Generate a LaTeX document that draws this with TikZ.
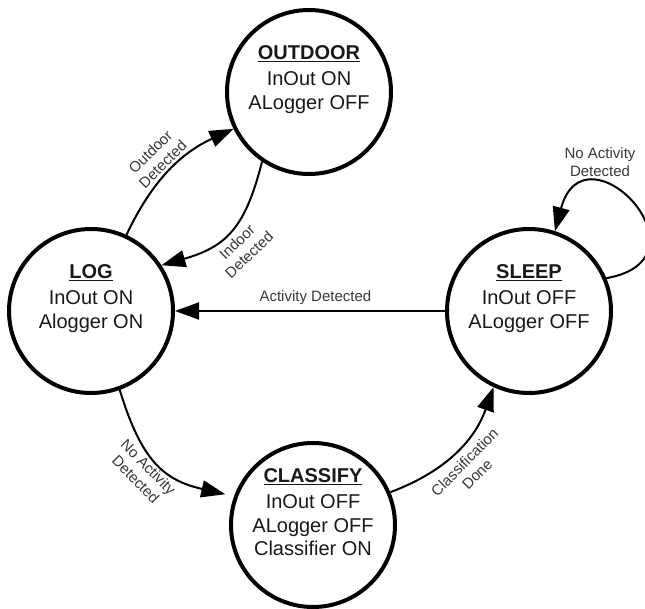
\documentclass[tikz,border=0pt]{standalone}
\usepackage{fontspec}
\setmainfont{Liberation Sans}
\usetikzlibrary{arrows.meta}
\begin{document}
\begin{tikzpicture}[x=1pt,y=1pt,
  state/.style={circle, draw, line width=4pt, minimum size=164pt, inner sep=0pt},
  stext/.style={align=center, font=\fontsize{20}{23.5}\selectfont, text=black!90, inner sep=0pt},
  edge/.style={line width=2pt, -{Triangle[length=24pt,width=17pt]}},
  lbl/.style={font=\fontsize{15}{17.5}\selectfont, text=black!78, align=center, inner sep=3pt},
]
\useasboundingbox (0,0) rectangle (645,-609);
\node[state] (outdoor) at (309,-92) {};
\node[state] (log) at (91,-311) {};
\node[state] (sleep) at (529,-311) {};
\node[state] (classify) at (313,-525) {};

\node[stext] (outdoortext) at ([yshift=12.5pt]outdoor.center) {\underline{\textbf{OUTDOOR}}\\[2.5pt] InOut ON\\ ALogger OFF};
\node[stext] (logtext) at ([yshift=12.5pt]log.center) {\underline{\textbf{LOG}}\\[2.5pt] InOut ON\\ Alogger ON};
\node[stext] (sleeptext) at ([yshift=12.5pt]sleep.center) {\underline{\textbf{SLEEP}}\\[2.5pt] InOut OFF\\ ALogger OFF};
\node[stext] (classifytext) at ([yshift=12.5pt]classify.center) {\underline{\textbf{CLASSIFY}}\\[2.5pt] InOut OFF\\ ALogger OFF\\ Classifier ON};

\draw[edge] (log.65) to[bend left=20] node[lbl, above, sloped] {Outdoor\\Detected} (outdoor.206);
\draw[edge] (outdoor.236) to[bend left=30, looseness=1.2] node[lbl, below=3pt, sloped, pos=0.52] {Indoor\\Detected} (log.33);
\draw[edge] (sleep.west) -- node[lbl, above=3pt, pos=0.48, inner sep=2pt] {Activity Detected} (log.east);
\draw[edge, shorten >=9pt] (log.290) to[bend right=30, looseness=1.2] node[lbl, below, sloped, pos=0.47] {No Activity\\Detected} (classify.160);
\draw[edge] (classify.23) to[bend right=25] node[lbl, below=4pt, sloped] {Classification\\Done} (sleep.245);
\draw[edge] (sleep.23) .. controls +(10:112) and +(75:115) .. node[lbl, above=8pt, pos=0.7] {No Activity\\Detected} (sleep.72);
\end{tikzpicture}
\end{document}
